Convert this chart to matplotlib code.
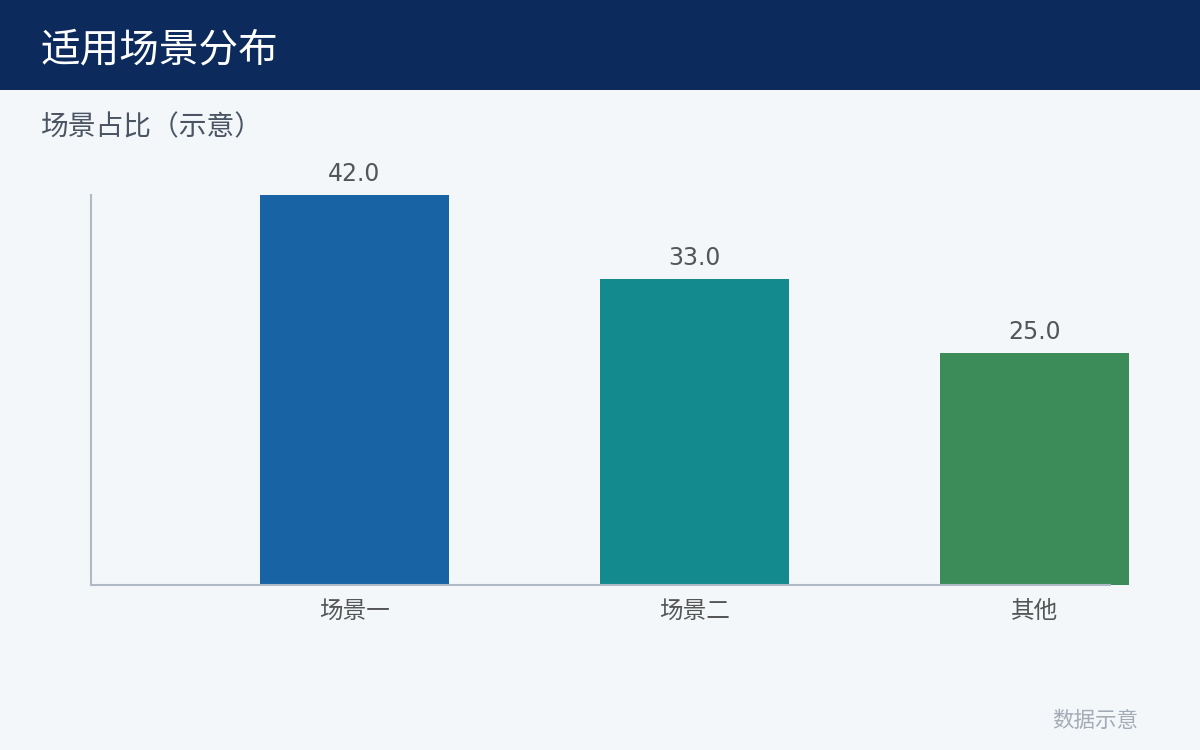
import matplotlib
matplotlib.use("Agg")
import matplotlib.pyplot as plt
from matplotlib.patches import Rectangle

plt.rcParams['font.family'] = ['Noto Sans CJK SC', 'DejaVu Sans']

categories = ["场景一", "场景二", "其他"]
values = [42.0, 33.0, 25.0]
colors = ["#1763A3", "#138A8E", "#3C8C5A"]
title = "适用场景分布"
subtitle = "场景占比（示意）"
footer = "数据示意"

BG = "#F3F7FA"
fig = plt.figure(figsize=(12, 7.5), dpi=100, facecolor=BG)

# header band
fig.patches.append(Rectangle((0, 1 - 90 / 750), 1, 90 / 750, transform=fig.transFigure,
                             facecolor="#0C2A5C", edgecolor="none", zorder=0))
fig.text(40 / 1200, 1 - 50 / 750, title, color="white", fontsize=28.5, va="center", ha="left")
fig.text(40 / 1200, 1 - 127 / 750, subtitle, color="#4A5463", fontsize=20, va="center", ha="left")
fig.text(1138 / 1200, 1 - 721 / 750, footer, color="#A3ABB6", fontsize=15.5, va="center", ha="right")

ax = fig.add_axes([91 / 1200, 1 - 585 / 750, (1110 - 91) / 1200, (585 - 195) / 750])
ax.set_facecolor(BG)
x = list(range(len(categories)))
bars = ax.bar(x, values, width=0.556, color=colors, zorder=2, clip_on=False)
ax.set_xlim(-0.775, 2.222)
ax.set_ylim(0, 42)
for s in ["top", "right"]:
    ax.spines[s].set_visible(False)
for s in ["left", "bottom"]:
    ax.spines[s].set_color("#B0BAC5")
    ax.spines[s].set_linewidth(1.5)
ax.set_yticks([])
ax.set_xticks(x)
ax.set_xticklabels(categories, fontsize=17, color="#555555")
ax.tick_params(axis="x", length=0, pad=11)
for b, v in zip(bars, values):
    ax.annotate(f"{v:.1f}", (b.get_x() + b.get_width() / 2, v), xytext=(0, 10),
                textcoords="offset points", ha="center", va="baseline",
                fontsize=17, color="#555555", annotation_clip=False,
                family=["DejaVu Sans"])

fig.savefig("out.png", dpi=100, facecolor=BG)
